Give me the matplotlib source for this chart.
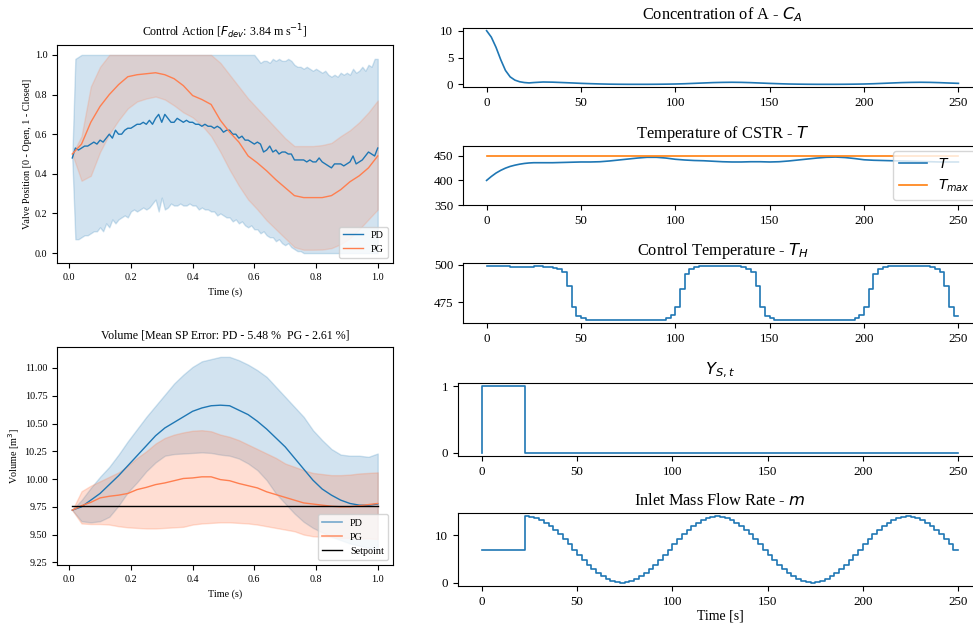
import numpy as np
import matplotlib
matplotlib.use("Agg")
import matplotlib.pyplot as plt
from matplotlib.lines import Line2D

plt.rcParams['font.family'] = ['Liberation Serif', 'DejaVu Serif']
plt.rcParams['mathtext.fontset'] = 'dejavusans'

# ---- left panels: episode time (s) ----
t_fine = np.linspace(0.01, 1.0, 100)   # 0.01 .. 1.00
t_s = np.linspace(0.01, 1.0, 34)       # 0.01, 0.04, .. 1.00

pd_valve = [0.48, 0.53, 0.52, 0.53, 0.54, 0.54, 0.55, 0.56, 0.55, 0.57,
            0.56, 0.58, 0.60, 0.58, 0.62, 0.60, 0.60, 0.62, 0.63, 0.63,
            0.64, 0.65, 0.65, 0.66, 0.65, 0.67, 0.65, 0.68, 0.70, 0.66,
            0.70, 0.68, 0.66, 0.66, 0.68, 0.67, 0.66, 0.67, 0.66, 0.66,
            0.65, 0.65, 0.64, 0.65, 0.64, 0.64, 0.63, 0.64, 0.63, 0.61,
            0.62, 0.62, 0.60, 0.60, 0.58, 0.59, 0.57, 0.57, 0.56, 0.55,
            0.56, 0.55, 0.51, 0.52, 0.54, 0.51, 0.52, 0.50, 0.51, 0.51,
            0.50, 0.50, 0.47, 0.47, 0.47, 0.47, 0.46, 0.47, 0.46, 0.46,
            0.48, 0.46, 0.45, 0.44, 0.43, 0.45, 0.45, 0.45, 0.44, 0.45,
            0.46, 0.49, 0.45, 0.46, 0.47, 0.49, 0.51, 0.50, 0.49, 0.53]
pd_valve_hi = ([0.48, 0.98, 0.99] + [1.0] * 57 +
               [0.98, 0.96, 0.97, 0.97, 0.96, 0.98, 0.97, 0.98, 0.97, 0.97,
                0.98, 0.97, 0.95, 0.94, 0.94, 0.93, 0.94, 0.93, 0.92, 0.93,
                0.92, 0.91, 0.92, 0.90, 0.89, 0.90, 0.89, 0.91, 0.90, 0.91,
                0.90, 0.93, 0.91, 0.92, 0.94, 0.92, 0.95, 0.94, 0.98, 0.98])
pd_valve_lo = ([0.48, 0.07, 0.07, 0.08, 0.09, 0.09, 0.10, 0.11, 0.11, 0.13,
                0.11, 0.15, 0.13, 0.17, 0.15, 0.17, 0.18, 0.19, 0.18, 0.21,
                0.22, 0.21, 0.22, 0.23, 0.22, 0.23, 0.25, 0.27, 0.21, 0.28,
                0.22, 0.23, 0.25, 0.24, 0.24, 0.25, 0.24, 0.24, 0.25, 0.24,
                0.24, 0.22, 0.23, 0.22, 0.22, 0.21, 0.21, 0.19, 0.20, 0.19,
                0.18, 0.18, 0.16, 0.17, 0.15, 0.16, 0.14, 0.13, 0.14, 0.12,
                0.12, 0.10, 0.11, 0.09, 0.08, 0.08, 0.06, 0.07, 0.05, 0.04,
                0.05, 0.03, 0.02, 0.01, 0.01] + [0.0] * 25)

pg_valve = [0.50, 0.55, 0.66, 0.74, 0.80, 0.85, 0.89, 0.90, 0.905, 0.91,
            0.90, 0.88, 0.845, 0.795, 0.775, 0.75, 0.67, 0.61, 0.56, 0.49,
            0.455, 0.415, 0.37, 0.33, 0.29, 0.28, 0.28, 0.28, 0.29, 0.32,
            0.36, 0.39, 0.43, 0.49]
pg_valve_hi = ([0.50, 0.59, 0.84, 0.94] + [1.0] * 12 +
               [0.96, 0.90, 0.84, 0.78, 0.73, 0.68, 0.63, 0.58, 0.54, 0.54,
                0.54, 0.545, 0.556, 0.59, 0.62, 0.66, 0.71, 0.77])
pg_valve_lo = [0.50, 0.365, 0.39, 0.51, 0.60, 0.67, 0.73, 0.765, 0.78, 0.79,
               0.775, 0.745, 0.71, 0.685, 0.645, 0.59, 0.51, 0.42, 0.34, 0.27,
               0.22, 0.165, 0.12, 0.075, 0.03, 0.017, 0.017, 0.018, 0.025,
               0.045, 0.075, 0.12, 0.17, 0.22]

pd_vol = [9.72, 9.75, 9.81, 9.87, 9.95, 10.03, 10.12, 10.21, 10.30, 10.39,
          10.46, 10.51, 10.56, 10.61, 10.64, 10.66, 10.665, 10.66, 10.62,
          10.58, 10.52, 10.45, 10.37, 10.29, 10.19, 10.09, 9.99, 9.91, 9.855,
          9.81, 9.78, 9.765, 9.765, 9.775]
pd_vol_hi = [9.72, 9.81, 9.92, 10.02, 10.11, 10.22, 10.34, 10.45, 10.56,
             10.66, 10.76, 10.86, 10.94, 11.01, 11.06, 11.08, 11.10, 11.10,
             11.07, 11.03, 10.98, 10.92, 10.83, 10.74, 10.65, 10.56, 10.44,
             10.35, 10.27, 10.22, 10.21, 10.21, 10.20, 10.23]
pd_vol_lo = [9.72, 9.62, 9.61, 9.62, 9.66, 9.76, 9.88, 9.97, 10.07, 10.15,
             10.21, 10.225, 10.23, 10.235, 10.24, 10.235, 10.22, 10.21, 10.185,
             10.14, 10.08, 9.99, 9.87, 9.78, 9.69, 9.615, 9.56, 9.52, 9.48,
             9.45, 9.42, 9.40, 9.38, 9.36]
pg_vol = [9.72, 9.76, 9.79, 9.83, 9.845, 9.855, 9.87, 9.905, 9.925, 9.95,
          9.965, 9.985, 10.005, 10.01, 10.02, 10.02, 9.995, 9.985, 9.96, 9.94,
          9.92, 9.885, 9.86, 9.835, 9.81, 9.785, 9.775, 9.765, 9.755, 9.75,
          9.75, 9.76, 9.77, 9.78]
pg_vol_hi = [9.72, 9.89, 9.94, 9.98, 10.02, 10.06, 10.12, 10.19, 10.25, 10.32,
             10.37, 10.40, 10.42, 10.435, 10.44, 10.43, 10.40, 10.38, 10.35,
             10.31, 10.27, 10.23, 10.19, 10.14, 10.11, 10.08, 10.055, 10.045,
             10.035, 10.035, 10.04, 10.05, 10.055, 10.06]
pg_vol_lo = [9.72, 9.60, 9.595, 9.595, 9.59, 9.575, 9.565, 9.56, 9.555, 9.555,
             9.56, 9.565, 9.57, 9.59, 9.60, 9.605, 9.61, 9.61, 9.605, 9.60,
             9.59, 9.575, 9.56, 9.545, 9.53, 9.50, 9.485, 9.48, 9.475, 9.47,
             9.47, 9.465, 9.465, 9.46]
setpoint = 9.76

# ---- right panels: CSTR simulation (s) ----
t_c = [0, 2.5, 5, 7.5, 10, 12.5, 15, 17.5, 20, 22.5] + list(range(25, 255, 5))
c_a = [10.0, 8.8, 6.9, 4.6, 2.6, 1.4, 0.8, 0.5, 0.35, 0.28,
       0.35, 0.45, 0.42, 0.35, 0.28, 0.20, 0.14, 0.09, 0.05, 0.03,
       0.02, 0.02, 0.02, 0.03, 0.05, 0.08, 0.13, 0.20, 0.27, 0.34,
       0.38, 0.40, 0.38, 0.33, 0.26, 0.19, 0.13, 0.08, 0.05, 0.03,
       0.02, 0.02, 0.02, 0.03, 0.05, 0.08, 0.13, 0.20, 0.27, 0.34,
       0.38, 0.40, 0.38, 0.33, 0.26, 0.20]
temp = [400, 408, 415, 420.5, 425, 428.5, 431, 433, 434.5, 435.5,
        436, 436, 436, 436.5, 437, 437.5, 437.5, 438, 439.5, 441.5,
        443.5, 445.5, 447, 447, 445.5, 443, 441.5, 440.5, 440, 439,
        438, 437.5, 437.5, 438, 438, 437.5, 438, 439.5, 441.5, 443.5,
        445.5, 447, 447.5, 446.5, 444.5, 442, 441, 440.5, 440, 439.5,
        439, 438.5, 438, 437.5, 437.5, 437.5]
t_max = 450

time_step = 2.5
t_ctrl = np.arange(101) * time_step   # 0 .. 250
t_h = ([499.5, 499.5, 499.5, 499.5, 499.5, 499.0, 498.8, 498.8, 498.8, 498.8,
        498.8, 499.0, 499.0, 498.8, 498.5, 498.0, 497.0, 495.5, 486.0, 472.0,
        466.0, 464.0, 463.3, 463.0] + [462.8] * 13 +
       [463.0, 463.3, 464.5, 466.5, 472.0, 484.0, 494.0, 497.5, 498.5, 499.0,
        499.3, 499.4, 499.4, 499.4, 499.4, 499.4, 499.2, 499.0, 498.5, 497.5,
        495.5, 486.0, 472.0, 466.0, 464.0, 463.3, 463.0] + [462.8] * 13 +
       [463.0, 463.3, 464.5, 466.5, 472.0, 484.0, 494.0, 497.5, 498.5, 499.0,
        499.3, 499.4, 499.4, 499.4, 499.4, 499.4, 499.2, 499.0, 498.5, 497.5,
        495.5, 486.0, 472.0, 466.0])
y_st = [0] + [1] * 9 + [0] * 91
m_in = ([7.0] * 10 +
        [14.00, 13.91, 13.66, 13.24, 12.66, 11.95, 11.11, 10.18, 9.16, 8.10,
         7.00, 5.90, 4.84, 3.82, 2.89, 2.05, 1.34, 0.76, 0.34, 0.09,
         0.00, 0.09, 0.34, 0.76, 1.34, 2.05, 2.89, 3.82, 4.84, 5.90,
         7.00, 8.10, 9.16, 10.18, 11.11, 11.95, 12.66, 13.24, 13.66, 13.91,
         14.00, 13.91, 13.66, 13.24, 12.66, 11.95, 11.11, 10.18, 9.16, 8.10,
         7.00, 5.90, 4.84, 3.82, 2.89, 2.05, 1.34, 0.76, 0.34, 0.09,
         0.00, 0.09, 0.34, 0.76, 1.34, 2.05, 2.89, 3.82, 4.84, 5.90,
         7.00, 8.10, 9.16, 10.18, 11.11, 11.95, 12.66, 13.24, 13.66, 13.91,
         14.00, 13.91, 13.66, 13.24, 12.66, 11.95, 11.11, 10.18, 9.16, 8.10,
         7.00])

W, H = 973, 625


def box(l, t, r, b):
    # pixel box (left, top, right, bottom) -> figure fraction
    return [l / W, 1 - b / H, (r - l) / W, (b - t) / H]


fig = plt.figure(figsize=(W / 100, H / 100), dpi=100)
pg_col = 'coral'
small = 7.3

# control action
ax = fig.add_axes(box(57, 45, 393, 263))
ax.fill_between(t_fine, pd_valve_lo, pd_valve_hi, color='C0', alpha=0.2)
ax.fill_between(t_s, pg_valve_lo, pg_valve_hi, color=pg_col, alpha=0.2)
ax.plot(t_fine, pd_valve, color='C0', lw=1, label='PD')
ax.plot(t_s, pg_valve, color=pg_col, lw=1, label='PG')
ax.set_ylim(-0.05, 1.05)
ax.set_title('Control Action [$F_{dev}$: 3.84 m s$^{-1}$]', fontsize=8.6)
ax.set_ylabel('Valve Position [0 - Open, 1 - Closed]', fontsize=small, labelpad=2)
ax.set_xlabel('Time (s)', fontsize=small)
ax.tick_params(labelsize=small)
ax.legend(loc='lower right', fontsize=small)

# volume
ax = fig.add_axes(box(57, 347, 393, 565))
ax.fill_between(t_s, pd_vol_lo, pd_vol_hi, color='C0', alpha=0.2)
ax.fill_between(t_s, pg_vol_lo, pg_vol_hi, color=pg_col, alpha=0.25)
ax.plot(t_s, pd_vol, color='C0', lw=1)
ax.plot(t_s, pg_vol, color=pg_col, lw=1)
ax.plot([t_s[0], t_s[-1]], [setpoint, setpoint], color='k', lw=1)
ax.set_ylim(9.226, 11.189)
ax.set_yticks([9.25, 9.5, 9.75, 10.0, 10.25, 10.5, 10.75, 11.0])
ax.set_title('Volume [Mean SP Error: PD - 5.48 %  PG - 2.61 %]', fontsize=8.6)
ax.set_ylabel('Volume [m$^3$]', fontsize=small, labelpad=2)
ax.set_xlabel('Time (s)', fontsize=small)
ax.tick_params(labelsize=small)
handles = [Line2D([], [], color='C0', alpha=0.6, lw=1.2),
           Line2D([], [], color=pg_col, alpha=0.8, lw=1.2),
           Line2D([], [], color='k', lw=1)]
ax.legend(handles, ['PD', 'PG', 'Setpoint'], loc='lower right', fontsize=small)

# right column
tick = 9.4
title = 11.8
lw_r = 1.2
xt = [0, 50, 100, 150, 200, 250]

ax = fig.add_axes(box(463, 28, 982, 87))
ax.plot(t_c, c_a, color='C0', lw=lw_r)
ax.set_yticks([0, 5, 10])
ax.set_title('Concentration of A - $C_A$', fontsize=title)

ax2 = fig.add_axes(box(463, 146, 982, 205))
ax2.plot(t_c, temp, color='C0', lw=lw_r, label='$T$')
ax2.plot([0, 250], [t_max, t_max], color='C1', lw=lw_r, label='$T_{max}$')
ax2.set_ylim(350, 470)
ax2.set_yticks([350, 400, 450])
ax2.set_title('Temperature of CSTR - $T$', fontsize=title)
ax2.legend(loc='center right', fontsize=10)

ax3 = fig.add_axes(box(463, 263, 982, 323))
ax3.step(t_ctrl, t_h, color='C0', lw=lw_r)
ax3.set_yticks([475, 500])
ax3.set_title('Control Temperature - $T_H$', fontsize=title)

ax4 = fig.add_axes(box(458, 383, 982, 456))
ax4.step(t_ctrl, y_st, color='C0', lw=lw_r)
ax4.set_yticks([0, 1])
ax4.set_title('$Y_{S,t}$', fontsize=title)

ax5 = fig.add_axes(box(458, 513, 982, 586))
ax5.step(t_ctrl, m_in, color='C0', lw=lw_r)
ax5.set_yticks([0, 10])
ax5.set_title('Inlet Mass Flow Rate - $m$', fontsize=title)
ax5.set_xlabel('Time [s]', fontsize=10, labelpad=1)

for a in (ax, ax2, ax3, ax4, ax5):
    a.set_xticks(xt)
    a.tick_params(labelsize=tick)

fig.savefig('out.png', dpi=100)
